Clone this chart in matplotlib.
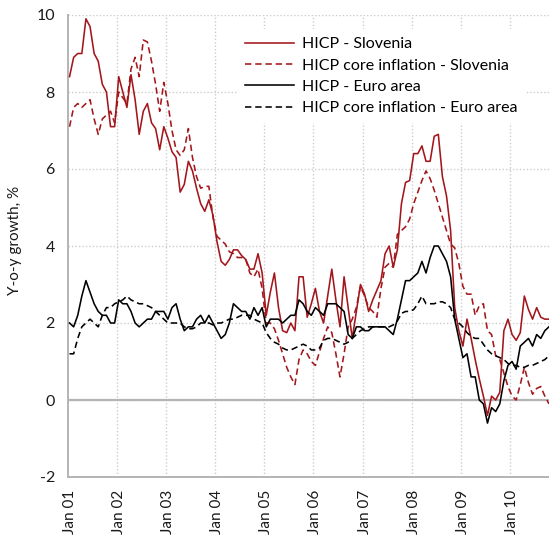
import matplotlib.pyplot as plt
import numpy as np

# monthly y-o-y rates, Jan 2001 - Oct 2010
si_hicp = [8.4, 8.9, 9.0, 9.0, 9.9, 9.7, 9.0, 8.8, 8.2, 8.0, 7.1, 7.1,
           8.4, 8.0, 7.6, 8.45, 7.8, 6.9, 7.5, 7.7, 7.2, 7.05, 6.5, 7.1,
           6.8, 6.45, 6.3, 5.4, 5.6, 6.2, 5.95, 5.5, 5.1, 4.9, 5.2, 4.8,
           4.1, 3.6, 3.5, 3.65, 3.9, 3.9, 3.75, 3.65, 3.4, 3.4, 3.8, 3.3,
           2.2, 2.8, 3.3, 2.4, 1.8, 1.75, 2.0, 1.8, 3.2, 3.2, 2.15, 2.5,
           2.9, 2.3, 2.0, 2.7, 3.4, 2.6, 1.9, 3.2, 2.4, 1.6, 2.3, 3.0,
           2.75, 2.3, 2.6, 2.85, 3.1, 3.8, 4.0, 3.45, 3.9, 5.1, 5.65, 5.7,
           6.4, 6.4, 6.6, 6.2, 6.2, 6.85, 6.9, 5.8, 5.3, 4.4, 2.4, 1.8,
           1.4, 2.1, 1.6, 1.05, 0.55, 0.1, -0.4, 0.1, 0.0, 0.2, 1.8, 2.1,
           1.7, 1.55, 1.75, 2.7, 2.35, 2.1, 2.4, 2.15, 2.1, 2.1]

si_core = [7.1, 7.6, 7.7, 7.6, 7.7, 7.8, 7.3, 6.9, 7.3, 7.4, 7.5, 7.2,
           8.0, 7.85, 7.7, 8.6, 8.9, 8.4, 9.35, 9.3, 8.8, 8.2, 7.5, 8.25,
           7.7, 7.0, 6.5, 6.35, 6.5, 7.05, 6.3, 5.8, 5.5, 5.55, 5.55, 4.75,
           4.25, 4.15, 4.05, 3.85, 3.8, 3.7, 3.7, 3.65, 3.3, 3.2, 3.4, 2.9,
           2.0, 2.0, 1.85, 1.55, 1.2, 0.85, 0.6, 0.4, 1.05, 1.3, 1.2, 1.0,
           0.9, 1.25, 1.6, 1.9, 1.75, 1.2, 0.6, 1.2, 1.9, 2.1, 2.4, 2.95,
           2.7, 2.4, 2.3, 2.15, 2.9, 3.45, 3.55, 3.45, 4.3, 4.4, 4.5, 4.7,
           5.1, 5.4, 5.7, 5.95, 5.75, 5.45, 5.1, 4.75, 4.4, 4.05, 3.95, 3.55,
           2.95, 2.75, 2.75, 2.2, 2.45, 2.5, 1.8, 1.7, 1.15, 1.05, 0.7, 0.35,
           0.1, 0.0, 0.4, 0.85, 0.45, 0.15, 0.3, 0.35, 0.1, -0.1]

ea_hicp = [2.0, 1.9, 2.2, 2.7, 3.1, 2.8, 2.5, 2.3, 2.2, 2.2, 2.0, 2.0,
           2.6, 2.5, 2.5, 2.3, 2.0, 1.9, 2.0, 2.1, 2.1, 2.3, 2.3, 2.3,
           2.1, 2.4, 2.5, 2.1, 1.8, 1.9, 1.9, 2.1, 2.2, 2.0, 2.2, 2.0,
           1.8, 1.6, 1.7, 2.0, 2.5, 2.4, 2.3, 2.3, 2.1, 2.4, 2.2, 2.4,
           1.9, 2.1, 2.1, 2.1, 2.0, 2.1, 2.2, 2.2, 2.6, 2.5, 2.3, 2.2,
           2.4, 2.3, 2.2, 2.5, 2.5, 2.5, 2.4, 2.3, 1.7, 1.6, 1.9, 1.9,
           1.8, 1.8, 1.9, 1.9, 1.9, 1.9, 1.8, 1.7, 2.1, 2.6, 3.1, 3.1,
           3.2, 3.3, 3.6, 3.3, 3.7, 4.0, 4.0, 3.8, 3.6, 3.2, 2.1, 1.6,
           1.1, 1.2, 0.6, 0.6, 0.0, -0.1, -0.6, -0.2, -0.3, -0.1, 0.5, 0.9,
           1.0, 0.8, 1.4, 1.5, 1.6, 1.4, 1.7, 1.6, 1.8, 1.9]

ea_core = [1.2, 1.2, 1.6, 1.9, 2.0, 2.1, 2.0, 1.9, 2.2, 2.4, 2.4, 2.5,
           2.55, 2.6, 2.7, 2.6, 2.55, 2.5, 2.5, 2.45, 2.4, 2.3, 2.2, 2.1,
           2.0, 2.0, 2.0, 2.0, 1.9, 1.85, 1.85, 1.9, 2.0, 2.0, 2.0, 1.95,
           2.0, 2.0, 2.05, 2.1, 2.1, 2.15, 2.2, 2.2, 2.2, 2.1, 2.05, 2.0,
           1.75, 1.6, 1.5, 1.45, 1.35, 1.3, 1.3, 1.35, 1.4, 1.45, 1.4, 1.3,
           1.3, 1.35, 1.55, 1.6, 1.6, 1.55, 1.5, 1.45, 1.5, 1.6, 1.7, 1.8,
           1.85, 1.9, 1.9, 1.9, 1.9, 1.9, 1.9, 1.95, 2.05, 2.25, 2.3, 2.3,
           2.35, 2.5, 2.7, 2.5, 2.5, 2.5, 2.55, 2.55, 2.5, 2.4, 2.1, 2.0,
           1.9, 1.75, 1.65, 1.6, 1.6, 1.45, 1.3, 1.2, 1.15, 1.1, 1.05, 0.95,
           0.9, 0.9, 0.85, 0.85, 0.9, 0.9, 0.95, 1.0, 1.05, 1.15]

year_labels = ["Jan 01", "Jan 02", "Jan 03", "Jan 04", "Jan 05",
               "Jan 06", "Jan 07", "Jan 08", "Jan 09", "Jan 10"]

plt.rcParams['font.family'] = ['Lato', 'DejaVu Sans']
plt.rcParams['axes.unicode_minus'] = False
red = '#a3161b'
grey = '#b4b4b4'

months = np.arange(len(si_hicp))

fig = plt.figure(figsize=(5.49, 5.36), dpi=100)
ax = fig.add_axes([67.5 / 549, 59 / 536, 483.5 / 549, 462 / 536])

ax.plot(months, si_hicp, color=red, lw=1.15, label="HICP - Slovenia", zorder=3)
ax.plot(months, si_core, color=red, lw=1.15, dashes=(4, 2.4),
        label="HICP core inflation - Slovenia", zorder=3)
ax.plot(months, ea_hicp, color='black', lw=1.15, label="HICP - Euro area", zorder=3)
ax.plot(months, ea_core, color='black', lw=1.15, dashes=(4, 2.4),
        label="HICP core inflation - Euro area", zorder=3)

ax.set_xlim(-0.5, len(months) - 0.5)
ax.set_ylim(-2, 10)

# ticks & grid
ax.set_xticks(months[::12])
ax.set_xticklabels(year_labels, rotation=90)
ax.set_xticks(np.arange(11.5, len(months), 12), minor=True)
ax.set_yticks(np.arange(-2, 11, 2))
ax.tick_params(axis='x', which='both', length=0, pad=9.5, labelsize=11, colors='#1a1a1a')
ax.tick_params(axis='y', length=0, pad=9, labelsize=11.5, colors='#1a1a1a')
ax.grid(which='minor', axis='x', color='#cccccc', ls=(0, (1, 1.5)), lw=1)
ax.grid(which='major', axis='y', color='#cccccc', ls=(0, (1, 1.5)), lw=1)
ax.axhline(0, color=grey, lw=1.6, zorder=2)

for side in ['top', 'right']:
    ax.spines[side].set_visible(False)
for side in ['left', 'bottom']:
    ax.spines[side].set_color(grey)
    ax.spines[side].set_linewidth(1.4)

fig.text(15 / 549, 1 - 240 / 536, "Y-o-y growth, %", rotation=90,
         ha='center', va='center', fontsize=11, color='#1a1a1a')

leg = ax.legend(loc='upper left', bbox_to_anchor=(0.335, 0.987), fontsize=11.5,
                frameon=True, fancybox=False, borderpad=0.5, labelspacing=0.45,
                handlelength=3.05, handletextpad=0.5)
leg.get_frame().set_edgecolor('none')
leg.get_frame().set_facecolor('white')
leg.get_frame().set_alpha(1)

fig.savefig("out.png", dpi=100)
